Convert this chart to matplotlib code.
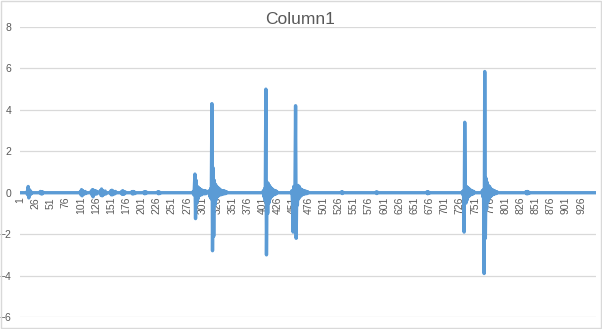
import numpy as np
import matplotlib.pyplot as plt

# values, zero elsewhere
n_points = 950

burst_start = [12, 34, 100, 118, 133, 150, 168, 185, 205, 228,
               286, 313, 402, 449, 531, 588, 672, 730, 763, 835]
burst_values = [
    [0.05, -0.1, 0.3, -0.25, 0.15, -0.1, 0.08, -0.05],
    [0.06, -0.05, 0.05, -0.06, 0.04],
    [0.05, -0.1, 0.15, -0.15, 0.1, -0.08, 0.05, -0.05, 0.06, -0.04],
    [0.08, -0.1, 0.15, -0.2, 0.12, -0.08, 0.1, -0.05, 0.08, -0.06, 0.05],
    [0.1, -0.12, 0.18, -0.15, 0.1, -0.1, 0.06, -0.05, 0.08, -0.06],
    [0.08, -0.1, 0.12, -0.1, 0.08, -0.06, 0.05, -0.05, 0.06],
    [0.06, -0.08, 0.1, -0.08, 0.05, -0.05, 0.04],
    [0.05, -0.06, 0.06, -0.05, 0.04, -0.04],
    [0.04, -0.05, 0.05, -0.04, 0.03],
    [0.05, -0.05, 0.04, -0.04],
    [0.05, -0.1, 0.2, 0.9, -1.25, 0.6, -0.5, 0.3, -0.3, 0.25, -0.15,
     0.2, -0.1, 0.15, -0.1, 0.12, -0.05, 0.1, -0.05, 0.1, -0.05, 0.08,
     -0.04, 0.06, 0.05, 0.06, 0.04],
    [0.1, -0.2, 0.2, -0.3, 4.3, -2.8, 1.2, -2.1, 0.6, -0.6, 0.4, -0.35,
     0.3, -0.2, 0.25, -0.15, 0.2, -0.1, 0.15, -0.1, 0.1, -0.08, 0.08,
     -0.05, 0.1, -0.05, 0.06, -0.04, 0.05],
    [0.1, -0.2, 0.2, -0.4, 5.0, -3.0, 0.5, -1.0, 0.45, -0.5, 0.35, -0.3,
     0.25, -0.2, 0.2, -0.15, 0.15, -0.1, 0.1, -0.08, 0.1, -0.05, 0.06],
    [0.1, -0.5, -1.9, 0.3, -1.2, 0.2, 4.2, -2.2, 0.3, -0.6, 0.35, -0.3,
     0.3, -0.2, 0.2, -0.15, 0.15, -0.1, 0.12, -0.08, 0.1, -0.05, 0.08,
     -0.05, 0.06, -0.04, 0.05],
    [0.05, -0.04, 0.03],
    [0.04, -0.04, 0.03],
    [0.05, -0.05, 0.04, -0.03],
    [0.05, -0.1, 0.1, -1.9, 3.4, 0.35, -0.5, 0.3, -0.35, 0.25, -0.2, 0.2,
     -0.15, 0.15, -0.1, 0.1, -0.08, 0.08, -0.05, 0.06],
    [0.1, -0.2, 0.15, -3.9, 5.85, -2.2, 0.7, -0.8, 0.5, -0.45, 0.35,
     -0.3, 0.3, -0.2, 0.2, -0.15, 0.15, -0.1, 0.12, -0.08, 0.1, -0.05,
     0.06, -0.04, 0.05],
    [0.05, -0.05, 0.06, -0.05, 0.04, -0.03],
]

series = np.zeros(n_points)
for start, vals in zip(burst_start, burst_values):
    series[start - 1:start - 1 + len(vals)] = vals

categories = np.arange(1, n_points + 1)
tick_labels = categories[::25]

grey = '#595959'
plt.rcParams['font.family'] = ['Liberation Sans', 'DejaVu Sans']

fig = plt.figure(figsize=(6.02, 3.29), dpi=100)
fig.patch.set_facecolor('white')
fig.patches.append(plt.Rectangle((0.001, 0.002), 0.997, 0.995, transform=fig.transFigure,
                                 fill=False, edgecolor='#D9D9D9', linewidth=1))

ax = fig.add_axes([20 / 602, 1 - 317 / 329, 576 / 602, 290 / 329])
# axis crosses at zero, like Excel (set before ticks, it resets them)
ax.spines['bottom'].set_position(('data', 0))
for s in ax.spines.values():
    s.set_visible(False)

ax.plot(categories, series, color='#5B9BD5', linewidth=2.4, solid_joinstyle='round', zorder=3)

ax.set_xlim(0.5, n_points + 0.5)
ax.set_ylim(-6, 8)
ax.set_yticks(np.arange(-6, 9, 2))
ax.grid(axis='y', color='#D9D9D9', linewidth=0.9)
ax.set_axisbelow(True)

ax.set_xticks(tick_labels)
ax.set_xticklabels([str(t) for t in tick_labels], rotation=90)
ax.tick_params(axis='x', length=0, pad=3, labelsize=7.5, colors=grey)
ax.tick_params(axis='y', length=0, pad=6, labelsize=7.5, colors=grey)

fig.text(0.498, 1 - 19 / 329, 'Column1', ha='center', va='center',
         fontsize=12.5, color=grey)

fig.savefig('out.png', dpi=100)
